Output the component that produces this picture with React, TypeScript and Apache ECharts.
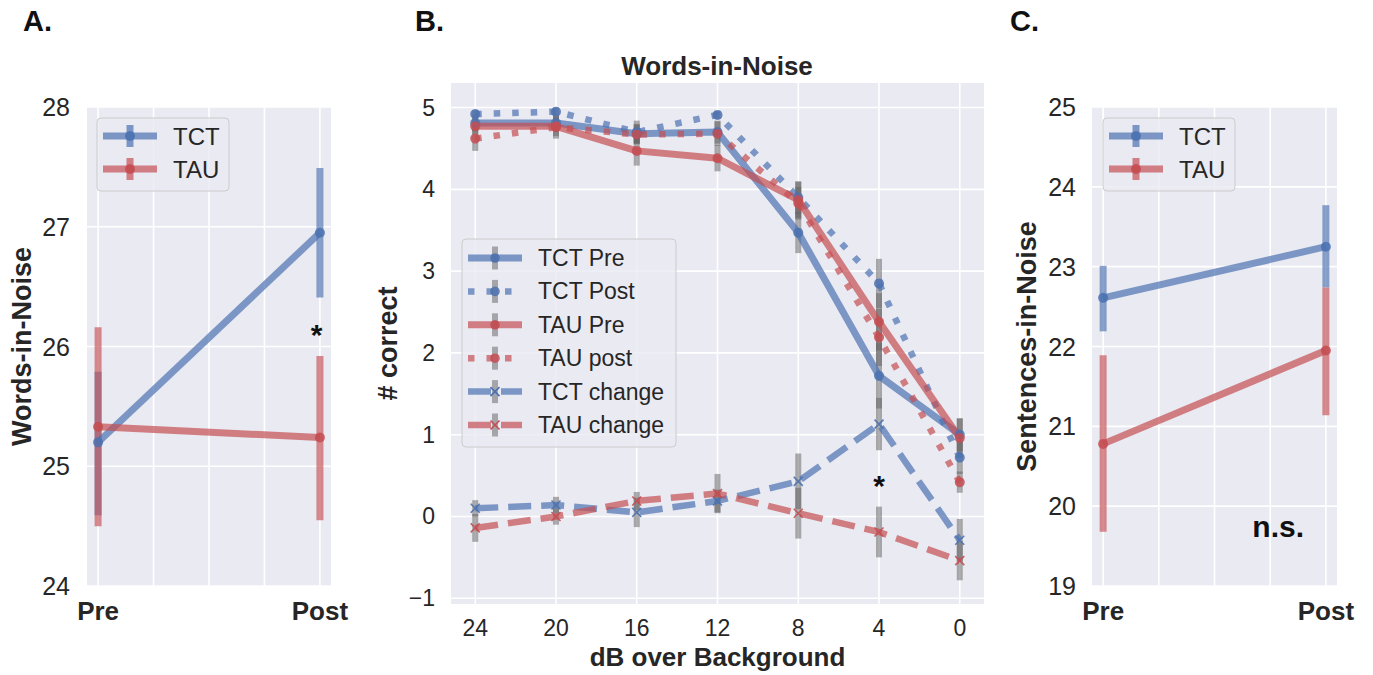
import React, { useEffect, useRef } from 'react';
import * as echarts from 'echarts';

// ---------- data ----------
const sessions = ['Pre', 'Post'];

// Panel A: Words-in-Noise (Pre / Post)
const winTCT = [25.2, 26.95];
const winTCTLow = [24.59, 26.41];
const winTCTHigh = [25.79, 27.49];
const winTAU = [25.33, 25.24];
const winTAULow = [24.5, 24.55];
const winTAUHigh = [26.16, 25.92];

// Panel C: Sentences-in-Noise (Pre / Post)
const sinTCT = [22.61, 23.25];
const sinTCTLow = [22.19, 22.74];
const sinTCTHigh = [23.01, 23.77];
const sinTAU = [20.78, 21.95];
const sinTAULow = [19.68, 21.14];
const sinTAUHigh = [21.89, 22.74];

// Panel B: # correct by dB over background
const dbLevels = ['24', '20', '16', '12', '8', '4', '0'];
const tctPre = [4.81, 4.81, 4.68, 4.7, 3.47, 1.72, 1.0];
const tctPreErr = [0.1, 0.1, 0.12, 0.14, 0.25, 0.4, 0.2];
const tctPost = [4.92, 4.95, 4.7, 4.91, 3.9, 2.85, 0.72];
const tctPostErr = [0.05, 0.05, 0.14, 0.05, 0.2, 0.3, 0.2];
const tauPre = [4.77, 4.77, 4.47, 4.38, 3.87, 2.38, 0.96];
const tauPreErr = [0.1, 0.12, 0.18, 0.16, 0.22, 0.35, 0.24];
const tauPost = [4.62, 4.76, 4.67, 4.68, 3.83, 2.19, 0.42];
const tauPostErr = [0.15, 0.14, 0.12, 0.15, 0.2, 0.35, 0.13];
const tctChange = [0.1, 0.14, 0.05, 0.19, 0.43, 1.13, -0.29];
const tctChangeErr = [0.1, 0.1, 0.18, 0.14, 0.34, 0.32, 0.26];
const tauChange = [-0.14, 0.0, 0.19, 0.28, 0.04, -0.19, -0.54];
const tauChangeErr = [0.17, 0.1, 0.11, 0.24, 0.31, 0.31, 0.24];

// annotations
const sigA = [[0.985, 26.1]];
const sigB = [[5, 0.38]];
const nsC = [[0.786, 19.75]];

// ---------- styles ----------
const BLUE = '#4C72B0';
const RED = '#C44E52';
const BG = '#EAEAF2';
const TXT = '#262626';
const FONT = '"Liberation Sans", Arial, Helvetica, sans-serif';
const GRAY = 'rgba(95,95,95,0.5)';
const DOT = [6.5, 12];
const DASH = [23, 10];

function gridLines(idx: number, vals: number[], dir: 'v' | 'h', xr: number[], yr: number[]) {
  return {
    type: 'custom',
    xAxisIndex: idx,
    yAxisIndex: idx,
    silent: true,
    z: 1,
    clip: false,
    data: vals.map((v) => (dir === 'v' ? [v, yr[0]] : [xr[0], v])),
    encode: { x: 0, y: 1 },
    renderItem: (params: any, api: any) => {
      const cs = params.coordSys;
      const p = api.coord([api.value(0), api.value(1)]);
      if (dir === 'v') {
        return { type: 'line', shape: { x1: p[0], y1: cs.y, x2: p[0], y2: cs.y + cs.height }, style: { stroke: '#ffffff', lineWidth: 1.6 } };
      }
      return { type: 'line', shape: { x1: cs.x, y1: p[1], x2: cs.x + cs.width, y2: p[1] }, style: { stroke: '#ffffff', lineWidth: 1.6 } };
    },
  };
}

function errBars(idx: number, xs: number[], lo: number[], hi: number[], color: string, width: number, opacity: number, z: number) {
  return {
    type: 'custom',
    xAxisIndex: idx,
    yAxisIndex: idx,
    silent: true,
    z,
    data: xs.map((x, i) => [x, lo[i], hi[i]]),
    encode: { x: 0, y: [1, 2] },
    renderItem: (params: any, api: any) => {
      const a = api.coord([api.value(0), api.value(1)]);
      const b = api.coord([api.value(0), api.value(2)]);
      return {
        type: 'line',
        shape: { x1: a[0], y1: a[1], x2: b[0], y2: b[1] },
        style: { stroke: color, lineWidth: width, opacity, lineCap: 'butt' },
      };
    },
  };
}

function textMarks(idx: number, pts: number[][], text: string, font: string, color: string) {
  return {
    type: 'custom',
    xAxisIndex: idx,
    yAxisIndex: idx,
    silent: true,
    z: 10,
    clip: false,
    data: pts,
    encode: { x: 0, y: 1 },
    renderItem: (params: any, api: any) => {
      const p = api.coord([api.value(0), api.value(1)]);
      return {
        type: 'text',
        x: p[0],
        y: p[1],
        style: { text, font, fill: color, align: 'center', verticalAlign: 'middle', textAlign: 'center', textVerticalAlign: 'middle' },
      };
    },
  };
}

function lineSeries(idx: number, name: string, xs: number[], ys: number[], color: string, lineType: any, width: number, symbol: string, symbolSize: number, isCross = false) {
  return {
    type: 'line',
    name,
    xAxisIndex: idx,
    yAxisIndex: idx,
    z: 3,
    data: xs.map((x, i) => [x, ys[i]]),
    lineStyle: { color, width, opacity: 0.7, type: lineType, cap: 'butt' },
    symbol,
    symbolSize,
    showSymbol: true,
    itemStyle: isCross
      ? { color: 'rgba(0,0,0,0)', borderColor: color, borderWidth: 1.6, opacity: 0.9 }
      : { color, opacity: 0.85, borderWidth: 0 },
    emphasis: { disabled: true },
  };
}

const T = (text: string, x: number, y: number, font: string, color = TXT, align = 'left', extra: any = {}) => ({
  type: 'text',
  z: 100,
  x,
  y,
  ...extra,
  style: { text, font, fill: color, align, verticalAlign: 'middle', textAlign: align, textVerticalAlign: 'middle' },
});

function legendAC(x0: number, y0: number) {
  const els: any[] = [
    { type: 'rect', z: 99, shape: { x: x0, y: y0, width: 132, height: 73, r: 4 }, style: { fill: 'rgba(234,234,242,0.8)', stroke: '#cccccc', lineWidth: 1 } },
  ];
  const rows: [string, string][] = [['TCT', BLUE], ['TAU', RED]];
  rows.forEach(([label, color], i) => {
    const y = y0 + 18 + i * 33;
    els.push({ type: 'line', z: 100, shape: { x1: x0 + 6, y1: y, x2: x0 + 60, y2: y }, style: { stroke: color, lineWidth: 7, opacity: 0.7 } });
    els.push({ type: 'line', z: 100, shape: { x1: x0 + 33, y1: y - 11, x2: x0 + 33, y2: y + 11 }, style: { stroke: color, lineWidth: 7, opacity: 0.7 } });
    els.push({ type: 'circle', z: 101, shape: { cx: x0 + 33, cy: y, r: 5 }, style: { fill: color, opacity: 0.85 } });
    els.push(T(label, x0 + 76, y, `24px ${FONT}`));
  });
  return els;
}

function legendB(x0: number, y0: number) {
  const els: any[] = [
    { type: 'rect', z: 99, shape: { x: x0, y: y0, width: 214, height: 208, r: 4 }, style: { fill: 'rgba(234,234,242,0.8)', stroke: '#cccccc', lineWidth: 1 } },
  ];
  const rows: [string, string, any, string][] = [
    ['TCT Pre', BLUE, null, 'o'],
    ['TCT Post', BLUE, DOT, 'o'],
    ['TAU Pre', RED, null, 'o'],
    ['TAU post', RED, DOT, 'o'],
    ['TCT change', BLUE, DASH, 'x'],
    ['TAU change', RED, DASH, 'x'],
  ];
  rows.forEach(([label, color, dash, mk], i) => {
    const y = y0 + 19 + i * 33.4;
    const mx = x0 + 33;
    els.push({ type: 'line', z: 100, shape: { x1: x0 + 6, y1: y, x2: x0 + 60, y2: y }, style: { stroke: color, lineWidth: dash ? 6.5 : 7, opacity: 0.7, lineDash: dash || undefined, lineCap: 'butt' } });
    els.push({ type: 'line', z: 101, shape: { x1: mx, y1: y - 11.5, x2: mx, y2: y + 11.5 }, style: { stroke: GRAY, lineWidth: 6 } });
    if (mk === 'o') {
      els.push({ type: 'circle', z: 102, shape: { cx: mx, cy: y, r: 4.8 }, style: { fill: color, opacity: 0.85 } });
    } else {
      els.push({ type: 'line', z: 102, shape: { x1: mx - 4.5, y1: y - 4.5, x2: mx + 4.5, y2: y + 4.5 }, style: { stroke: color, lineWidth: 1.6 } });
      els.push({ type: 'line', z: 102, shape: { x1: mx - 4.5, y1: y + 4.5, x2: mx + 4.5, y2: y - 4.5 }, style: { stroke: color, lineWidth: 1.6 } });
    }
    els.push(T(label, x0 + 76, y, `23px ${FONT}`));
  });
  return els;
}

export default function App() {
  const ref = useRef<HTMLDivElement>(null);

  useEffect(() => {
    if (!ref.current) return;
    const chart = echarts.init(ref.current, null, { renderer: 'svg' });

    const xAC = [-0.05, 1.05];
    const yA = [24, 28];
    const yC = [19, 25];
    const xB = [-0.3, 6.3];
    const yB = [-1.07, 5.3];
    const idxB = dbLevels.map((_, i) => i);
    const sessX = sessions.map((_, i) => i);

    const tickLabel = (size: number, margin: number, custom: number[], formatter: any, bold = false) => ({
      customValues: custom,
      formatter,
      color: TXT,
      fontSize: size,
      fontWeight: bold ? 'bold' : 'normal',
      fontFamily: FONT,
      margin,
      showMinLabel: true,
      showMaxLabel: true,
    });
    const minus = (v: number) => (v < 0 ? '\u2212' + Math.abs(v) : String(v));
    const nameStyle = (size: number) => ({ fontSize: size, fontWeight: 'bold', color: TXT, fontFamily: FONT });

    const commonAxis = {
      type: 'value',
      axisLine: { show: false },
      axisTick: { show: false },
      splitLine: { show: false },
    };

    const option: any = {
      animation: false,
      backgroundColor: '#ffffff',
      grid: [
        { left: 87, top: 107, width: 244, height: 479, show: true, backgroundColor: BG, borderWidth: 0 },
        { left: 451, top: 83, width: 533, height: 521, show: true, backgroundColor: BG, borderWidth: 0 },
        { left: 1092, top: 107, width: 245, height: 479, show: true, backgroundColor: BG, borderWidth: 0 },
      ],
      xAxis: [
        { ...commonAxis, gridIndex: 0, min: xAC[0], max: xAC[1], axisLabel: tickLabel(26, 12, sessX, (v: number) => sessions[Math.round(v)], true) },
        {
          ...commonAxis, gridIndex: 1, min: xB[0], max: xB[1],
          axisLabel: tickLabel(23, 12, idxB, (v: number) => dbLevels[Math.round(v)]),
          name: 'dB over Background', nameLocation: 'middle', nameGap: 40, nameTextStyle: nameStyle(26),
        },
        { ...commonAxis, gridIndex: 2, min: xAC[0], max: xAC[1], axisLabel: tickLabel(26, 12, sessX, (v: number) => sessions[Math.round(v)], true) },
      ],
      yAxis: [
        {
          ...commonAxis, gridIndex: 0, min: yA[0], max: yA[1],
          axisLabel: tickLabel(25, 17, [24, 25, 26, 27, 28], (v: number) => String(v)),
          name: 'Words-in-Noise', nameLocation: 'middle', nameGap: 52, nameRotate: 90, nameTextStyle: nameStyle(27),
        },
        {
          ...commonAxis, gridIndex: 1, min: yB[0], max: yB[1],
          axisLabel: tickLabel(23, 16, [-1, 0, 1, 2, 3, 4, 5], minus),
          name: '# correct', nameLocation: 'middle', nameGap: 50, nameRotate: 90, nameTextStyle: nameStyle(27),
        },
        {
          ...commonAxis, gridIndex: 2, min: yC[0], max: yC[1],
          axisLabel: tickLabel(25, 16, [19, 20, 21, 22, 23, 24, 25], (v: number) => String(v)),
          name: 'Sentences-in-Noise', nameLocation: 'middle', nameGap: 52, nameRotate: 90, nameTextStyle: nameStyle(27),
        },
      ],
      series: [
        // grid lines
        gridLines(0, [0, 0.25, 0.5, 0.75, 1], 'v', xAC, yA),
        gridLines(0, [24, 25, 26, 27, 28], 'h', xAC, yA),
        gridLines(1, idxB, 'v', xB, yB),
        gridLines(1, [-1, 0, 1, 2, 3, 4, 5], 'h', xB, yB),
        gridLines(2, [0, 0.25, 0.5, 0.75, 1], 'v', xAC, yC),
        gridLines(2, [19, 20, 21, 22, 23, 24, 25], 'h', xAC, yC),

        // Panel A
        errBars(0, sessX, winTCTLow, winTCTHigh, BLUE, 7, 0.65, 2),
        errBars(0, sessX, winTAULow, winTAUHigh, RED, 7, 0.65, 2),
        lineSeries(0, 'TCT', sessX, winTCT, BLUE, 'solid', 7, 'circle', 10),
        lineSeries(0, 'TAU', sessX, winTAU, RED, 'solid', 7, 'circle', 10),
        textMarks(0, sigA, '*', `bold 30px ${FONT}`, '#111111'),

        // Panel B error bars
        errBars(1, idxB, tctPre.map((v, i) => v - tctPreErr[i]), tctPre.map((v, i) => v + tctPreErr[i]), GRAY, 6, 1, 2),
        errBars(1, idxB, tctPost.map((v, i) => v - tctPostErr[i]), tctPost.map((v, i) => v + tctPostErr[i]), GRAY, 6, 1, 2),
        errBars(1, idxB, tauPre.map((v, i) => v - tauPreErr[i]), tauPre.map((v, i) => v + tauPreErr[i]), GRAY, 6, 1, 2),
        errBars(1, idxB, tauPost.map((v, i) => v - tauPostErr[i]), tauPost.map((v, i) => v + tauPostErr[i]), GRAY, 6, 1, 2),
        errBars(1, idxB, tctChange.map((v, i) => v - tctChangeErr[i]), tctChange.map((v, i) => v + tctChangeErr[i]), GRAY, 6, 1, 2),
        errBars(1, idxB, tauChange.map((v, i) => v - tauChangeErr[i]), tauChange.map((v, i) => v + tauChangeErr[i]), GRAY, 6, 1, 2),
        // Panel B lines
        lineSeries(1, 'TCT Pre', idxB, tctPre, BLUE, 'solid', 7, 'circle', 10),
        lineSeries(1, 'TCT Post', idxB, tctPost, BLUE, DOT, 6.5, 'circle', 10),
        lineSeries(1, 'TAU Pre', idxB, tauPre, RED, 'solid', 7, 'circle', 10),
        lineSeries(1, 'TAU post', idxB, tauPost, RED, DOT, 6.5, 'circle', 10),
        lineSeries(1, 'TCT change', idxB, tctChange, BLUE, DASH, 6.5, 'path://M0,0L10,10M10,0L0,10', 9, true),
        lineSeries(1, 'TAU change', idxB, tauChange, RED, DASH, 6.5, 'path://M0,0L10,10M10,0L0,10', 9, true),
        textMarks(1, sigB, '*', `bold 30px ${FONT}`, '#111111'),

        // Panel C
        errBars(2, sessX, sinTCTLow, sinTCTHigh, BLUE, 7, 0.65, 2),
        errBars(2, sessX, sinTAULow, sinTAUHigh, RED, 7, 0.65, 2),
        lineSeries(2, 'TCT', sessX, sinTCT, BLUE, 'solid', 7, 'circle', 10),
        lineSeries(2, 'TAU', sessX, sinTAU, RED, 'solid', 7, 'circle', 10),
        textMarks(2, nsC, 'n.s.', `bold 30px ${FONT}`, '#111111'),
      ],
      graphic: {
        elements: [
          T('A.', 23, 21, `bold 29px ${FONT}`, '#111111'),
          T('B.', 415, 21, `bold 29px ${FONT}`, '#111111'),
          T('C.', 1010, 21, `bold 29px ${FONT}`, '#111111'),
          T('Words-in-Noise', 717, 66, `bold 26px ${FONT}`, TXT, 'center'),
          ...legendAC(97, 118),
          ...legendB(462, 239),
          ...legendAC(1103, 118),
        ],
      },
    };

    chart.setOption(option);
    return () => chart.dispose();
  }, []);

  return <div ref={ref} style={{ position: 'absolute', left: 0, top: 0, width: 1373, height: 675 }} />;
}
